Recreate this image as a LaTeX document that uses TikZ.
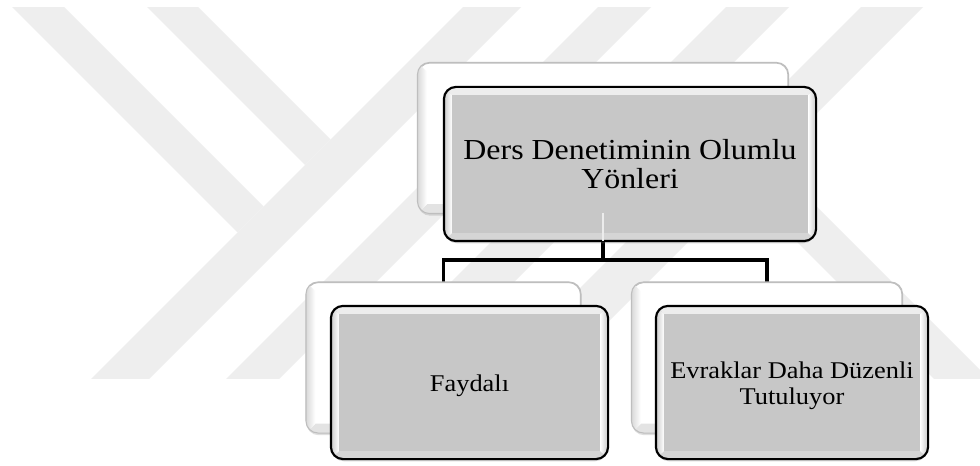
\documentclass[tikz,border=0pt]{standalone}
\usepackage{fontspec}
\setmainfont{Liberation Serif}[FakeStretch=1.1]
\usetikzlibrary{calc,shadows}
\definecolor{wm}{RGB}{238,238,238}
\definecolor{face}{RGB}{199,199,199}
\definecolor{backedge}{RGB}{190,190,190}
\newcommand{\mainbevel}[1]{%
  \coordinate (#1-inw) at ($(#1.north west)+(6pt,-6pt)$);
  \coordinate (#1-ine) at ($(#1.north east)+(-6pt,-6pt)$);
  \coordinate (#1-isw) at ($(#1.south west)+(6pt,6pt)$);
  \coordinate (#1-ise) at ($(#1.south east)+(-6pt,6pt)$);
  \begin{scope}
    \clip[rounded corners=9pt] (#1.north west) rectangle (#1.south east);
    \fill[gray!14] (#1.north west) -- (#1.north east) -- (#1-ine) -- (#1-inw) -- cycle;
    \fill[gray!33] (#1.south west) -- (#1.south east) -- (#1-ise) -- (#1-isw) -- cycle;
    \shade[left color=gray!40, right color=white] (#1.north west) -- (#1-inw) -- (#1-isw) -- (#1.south west) -- cycle;
    \shade[left color=white, right color=gray!45] (#1.north east) -- (#1-ine) -- (#1-ise) -- (#1.south east) -- cycle;
  \end{scope}
  \draw[line width=1.6pt, rounded corners=9pt] (#1.north west) rectangle (#1.south east);
}
\newcommand{\backbevel}[1]{%
  \coordinate (#1-inw) at ($(#1.north west)+(7pt,-7pt)$);
  \coordinate (#1-isw) at ($(#1.south west)+(7pt,7pt)$);
  \coordinate (#1-ise) at ($(#1.south east)+(-7pt,7pt)$);
  \begin{scope}
    \clip[rounded corners=9pt] (#1.north west) rectangle (#1.south east);
    \fill[gray!22] (#1.south west) -- (#1.south east) -- (#1-ise) -- (#1-isw) -- cycle;
    \shade[left color=gray!30, right color=white] (#1.north west) -- (#1-inw) -- (#1-isw) -- (#1.south west) -- cycle;
  \end{scope}
  \draw[backedge, line width=0.8pt, rounded corners=9pt] (#1.north west) rectangle (#1.south east);
}
\begin{document}
\begin{tikzpicture}[x=0.75pt,y=-0.75pt,
  backbox/.style={rectangle, rounded corners=9pt, fill=white, draw=backedge, line width=0.8pt,
    drop shadow={shadow xshift=0pt, shadow yshift=-2pt, opacity=0.25, fill=gray}},
  mainbox/.style={rectangle, rounded corners=9pt, fill=face, draw=black, line width=1.6pt,
    drop shadow={shadow xshift=0pt, shadow yshift=-2.5pt, opacity=0.3, fill=gray}},
  conn/.style={draw=black, line width=2.8pt},
  toptext/.style={font=\fontsize{21.75pt}{21.75pt}\selectfont, align=center, inner sep=0pt},
  kidtext/.style={font=\fontsize{18pt}{19.5pt}\selectfont, align=center, inner sep=0pt}]
\useasboundingbox (0,0) rectangle (980,466);
\fill[white] (0,0) rectangle (980,466);
% watermark
\begin{scope}
  \clip (0,8) rectangle (980,378);
  \fill[wm] (5,0) -- (57,0) -- (263.5,206.5) -- (237.5,232.5) -- cycle;
  \fill[wm] (140,0) -- (191,0) -- (330.5,139.5) -- (305,165) -- cycle;
  \fill[wm] (470,0) -- (528,0) -- (128,400) -- (70,400) -- cycle;
  \fill[wm] (605,0) -- (658,0) -- (258,400) -- (205,400) -- cycle;
  \fill[wm] (733,0) -- (796,0) -- (396,400) -- (333,400) -- cycle;
  \fill[wm] (868,0) -- (930,0) -- (530,400) -- (468,400) -- cycle;
  \fill[wm] (742.5,187.5) -- (770,160) -- (1010,400) -- (955,400) -- cycle;
\end{scope}
% back boxes
\node[backbox, minimum width=277.5pt, minimum height=112.5pt] (ts) at (603,138) {};
\node[backbox, minimum width=205.5pt, minimum height=112.5pt] (ls) at (443.5,357.5) {};
\node[backbox, minimum width=202.5pt, minimum height=112.5pt] (rs) at (767,357.5) {};
% connectors
\coordinate (bar) at (603,260);
\draw[conn] (ts.south) -- (ts.south |- bar) -| (ls.north);
\draw[conn] (ts.south |- bar) -| (rs.north);
\backbevel{ts}
\backbevel{ls}
\backbevel{rs}
% main boxes
\node[mainbox, minimum width=277.5pt, minimum height=114pt] (tm) at (630,164) {};
\mainbevel{tm}
\draw[white!85!gray, line width=2.2pt] ($(ts.south)+(0,-1)$) -- (ts.south |- tm.south);
\node[toptext] (tt) at (tm.center) {Ders Denetiminin Olumlu\\Yönleri};
\node[mainbox, minimum width=206.25pt, minimum height=113.25pt] (lm) at (469.5,382.5) {};
\mainbevel{lm}
\node[kidtext] (lt) at ($(lm.center)+(0,3)$) {Faydalı};
\node[mainbox, minimum width=202.5pt, minimum height=113.25pt] (rm) at (792,382.5) {};
\mainbevel{rm}
\node[kidtext] (rt) at ($(rm.center)+(0,3)$) {Evraklar Daha Düzenli\\Tutuluyor};
\end{tikzpicture}
\end{document}
